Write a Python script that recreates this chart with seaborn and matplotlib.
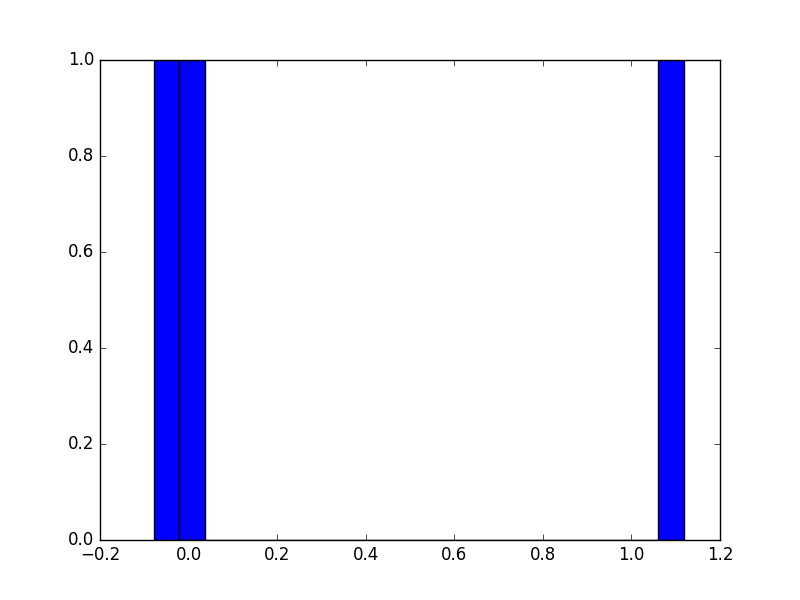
import numpy as np
import matplotlib
matplotlib.use("Agg")
import matplotlib.pyplot as plt
import seaborn as sns

# values
samples = [-0.05, 0.008, 1.09]
bin_edges = [-0.079, -0.021, 0.037, 1.061, 1.119]

plt.style.use("classic")
plt.rcParams["figure.facecolor"] = "white"
plt.rcParams["savefig.facecolor"] = "white"

fig = plt.figure(figsize=(8, 6), dpi=100)
ax = fig.add_axes([0.125, 0.1, 0.775, 0.8])

sns.histplot(x=samples, bins=bin_edges, stat="count", color="blue",
             edgecolor="black", linewidth=1, alpha=1, ax=ax)

ax.set_xlim(-0.2, 1.2)
ax.set_ylim(0, 1)
ax.set_xticks(np.arange(-0.2, 1.21, 0.2))
ax.set_yticks(np.arange(0, 1.01, 0.2))
ax.set_xlabel("")
ax.set_ylabel("")

fig.savefig("out.png", dpi=100)
